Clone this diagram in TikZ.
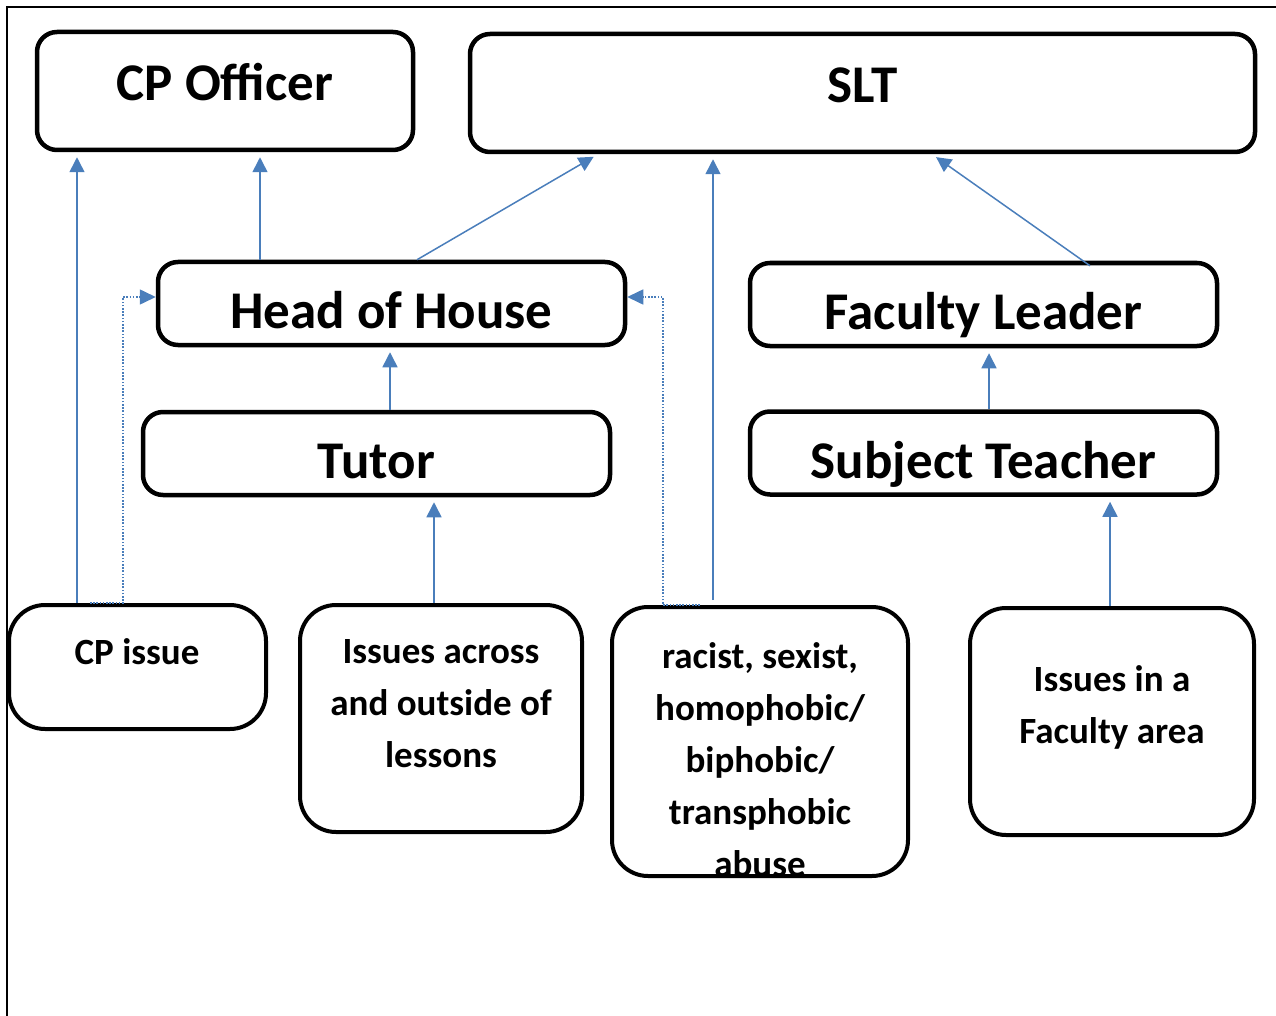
\documentclass[tikz,border=0pt]{standalone}
\usepackage{fontspec}
\setmainfont{Carlito}
\usetikzlibrary{arrows.meta}
\definecolor{linkblue}{HTML}{4A7EBB}
\tikzset{
  bigbox/.style={draw, line width=4.5pt, rounded corners=20pt, inner sep=0pt,
    text depth=0pt, font=\fontsize{53}{60}\selectfont\bfseries},
  topbox/.style={bigbox, minimum height=118pt, text height=19pt},
  midbox/.style={bigbox, minimum width=467pt, minimum height=83pt, text height=50pt},
  lowbox/.style={draw, line width=4pt, rounded corners=36pt, inner sep=0pt},
  lowtext/.style={align=center, inner sep=0pt,
    font=\fontsize{37}{52}\selectfont\bfseries},
  link/.style={draw=linkblue, line width=1.5pt,
    -{Triangle[length=15pt,width=15pt]}, shorten >=5pt},
  dotlink/.style={draw=linkblue, line width=1.6pt, dash pattern=on 1.6pt off 1.6pt,
    -{Triangle[length=16pt,width=15pt]}}
}
\begin{document}
\begin{tikzpicture}[x=1pt,y=-1pt]
  \useasboundingbox (0,0) rectangle (1276,1016);
  % Rahmen
  \draw[line width=2pt] (7,1016) -- (7,7) -- (1276,7);
  % obere Ebene
  \node[topbox, minimum width=376pt] (cpo) at (225,91) {CP Officer};
  \node[topbox, minimum width=785pt] (slt) at (862.5,93) {SLT};
  % mittlere Ebene
  \node[midbox] (hoh) at (391.5,303.5) {Head of House};
  \node[midbox] (fl) at (983.5,304.5) {Faculty Leader};
  \node[midbox] (tutor) at (376.5,453.5) {Tutor};
  \node[midbox] (st) at (983.5,453) {Subject Teacher};
  % untere Ebene
  \node[lowbox, minimum width=257pt, minimum height=124pt] (cpi) at (137.5,667) {};
  \node[lowbox, minimum width=282pt, minimum height=227pt] (across) at (441,718.5) {};
  \node[lowbox, minimum width=296pt, minimum height=269pt] (abuse) at (760,741.5) {};
  \node[lowbox, minimum width=284pt, minimum height=227pt] (fac) at (1112,721.5) {};
  \node[lowtext] (cpi-t) at (137,652) {CP issue};
  \node[lowtext] (across-t) at (441,704) {Issues across\\and outside of\\lessons};
  \node[lowtext] (abuse-t) at (760,760) {racist, sexist,\\homophobic/\\biphobic/\\transphobic\\abuse};
  \node[lowtext] (fac-t) at (1112,707) {Issues in a\\Faculty area};
  % Pfeile
  \draw[link] ([xshift=-60.5pt]cpi.north) -- ([xshift=-60.5pt]cpi.north |- cpo.south);
  \draw[link] ([xshift=-131.5pt]hoh.north) -- ([xshift=-131.5pt]hoh.north |- cpo.south);
  \draw[link] ([xshift=25.5pt]hoh.north) -- ([xshift=-264.5pt]slt.south);
  \draw[link, shorten <=5pt] ([xshift=-47pt]abuse.north) -- ([xshift=-47pt]abuse.north |- slt.south);
  \draw[link] ([xshift=106.5pt,yshift=-5pt]fl.north) -- ([xshift=69.5pt]slt.south);
  \draw[link] ([xshift=13.5pt]tutor.north) -- ([xshift=13.5pt]tutor.north |- hoh.south);
  \draw[link] ([xshift=5.5pt]st.north) -- ([xshift=5.5pt]st.north |- fl.south);
  \draw[link] ([xshift=-7pt]across.north) -- ([xshift=-7pt]across.north |- tutor.south);
  \draw[link] ([xshift=-2pt]fac.north) -- ([xshift=-2pt]fac.north |- st.south);
  % gepunktete Wege
  \draw[dotlink] ([xshift=-47.5pt]cpi.north) -- ([xshift=-14.5pt]cpi.north) |- ([yshift=6.5pt]hoh.west);
  \draw[dotlink] ([xshift=-60pt]abuse.north) -- ([xshift=-97pt]abuse.north) |- ([yshift=6.5pt]hoh.east);
\end{tikzpicture}
\end{document}
